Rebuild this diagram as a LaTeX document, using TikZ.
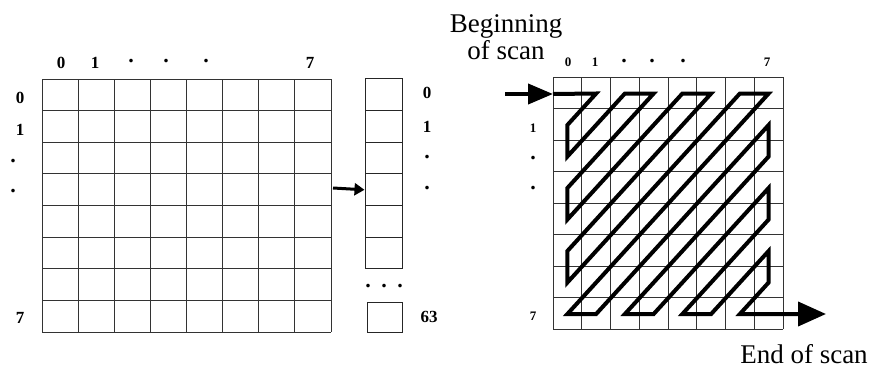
\documentclass[tikz,border=0pt]{standalone}
\usepackage{fontspec}
\setmainfont{Liberation Serif}
\usetikzlibrary{arrows.meta, positioning}

\begin{document}
\begin{tikzpicture}[
            x=0.5pt, y=-0.5pt,
            every node/.style={inner sep=0pt},
            gridline/.style={draw=black!80, line width=0.5pt},
            cell/.style={draw=black!85, line width=0.5pt, minimum width=18.5pt, minimum height=15.83pt},
            idx/.style={font=\fontsize{8.5}{9}\selectfont\bfseries},
            smallidx/.style={font=\fontsize{6.5}{7}\selectfont\bfseries},
            dotmark/.style={font=\fontsize{11}{11}\selectfont\bfseries},
            caption/.style={font=\fontsize{13.5}{13.5}\selectfont, align=center},
            scan/.style={line width=2pt},
        ]
        \useasboundingbox (0,0) rectangle (878,375);

        % 8x8 block
        \foreach \i in {0,...,8} {
            \draw[gridline] ({42+36.125*\i},79) -- ({42+36.125*\i},332);
            \draw[gridline] (42,{79+31.625*\i}) -- (331,{79+31.625*\i});
        }
        \node[idx] (bc0) at (61,63) {0};
        \node[idx] (bc1) at (95,63) {1};
        \node[dotmark] (bcd1) at (131,61) {.};
        \node[dotmark] (bcd2) at (166,61) {.};
        \node[dotmark] (bcd3) at (206,61) {.};
        \node[idx] (bc7) at (310,63) {7};
        \node[idx] (br0) at (20,98) {0};
        \node[idx] (br1) at (20,130) {1};
        \node[dotmark] (brd1) at (13,161) {.};
        \node[dotmark] (brd2) at (13,191) {.};
        \node[idx] (br7) at (20,318) {7};

        % column of 64 coefficients
        \foreach \i in {0,...,5}
            \node[cell] (v\i) at (383.5,{94.8+31.67*\i}) {};
        \node[dotmark] (vd1) at (368,286) {.};
        \node[dotmark] (vd2) at (384,286) {.};
        \node[dotmark] (vd3) at (400,286) {.};
        \node[cell, minimum width=17.5pt, minimum height=15pt] (v63) at (384.5,317) {};
        \node[idx] (vl0) at (427,93) {0};
        \node[idx] (vl1) at (427,127) {1};
        \node[dotmark] (vld1) at (427,157) {.};
        \node[dotmark] (vld2) at (427,188) {.};
        \node[idx] (vl63) at (429,317) {63};

        \coordinate (feed) at (333,188);
        \draw[line width=1.5pt, -{Triangle[length=5pt, width=6pt]}] (feed) -- (v3.west);

        % zig-zag scan
        \foreach \i in {0,...,8} {
            \draw[gridline] ({553+28.75*\i},77) -- ({553+28.75*\i},329);
            \draw[gridline] (553,{77+31.5*\i}) -- (783,{77+31.5*\i});
        }
        \foreach \r in {0,...,7}
            \foreach \c in {0,...,7}
                \coordinate (z\r\c) at ({567.4+28.75*\c},{93.5+31.5*\r});

        \node[smallidx] (zc0) at (568,62) {0};
        \node[smallidx] (zc1) at (595,62) {1};
        \node[dotmark] (zcd1) at (624,61) {.};
        \node[dotmark] (zcd2) at (652,61) {.};
        \node[dotmark] (zcd3) at (683,61) {.};
        \node[smallidx] (zc7) at (767,62) {7};
        \node[smallidx] (zr1) at (533,128) {1};
        \node[dotmark] (zrd1) at (533,158) {.};
        \node[dotmark] (zrd2) at (533,188) {.};
        \node[smallidx] (zr7) at (533,316) {7};

        \coordinate (scanin) at (505,94);
        \coordinate (gin) at (553,94);
        \coordinate (scanout) at (826,314);

        \draw[scan, -{Triangle[length=12.5pt, width=10pt]}] (scanin) -- (gin);
        \draw[scan, -{Triangle[length=14pt, width=12pt]}]
            (gin) -- (z01) -- (z10) -- (z20) -- (z02) -- (z03) -- (z30) -- (z40)
            -- (z04) -- (z05) -- (z50) -- (z60) -- (z06) -- (z07) -- (z70) -- (z71)
            -- (z17) -- (z27) -- (z72) -- (z73) -- (z37) -- (z47) -- (z74) -- (z75)
            -- (z57) -- (z67) -- (z76) -- (scanout);

        \node[caption, anchor=north] (begin) at (506,14) {Beginning\\of scan};
        \node[caption, anchor=base] (end) at (804,363) {End of scan};
\end{tikzpicture}
\end{document}
